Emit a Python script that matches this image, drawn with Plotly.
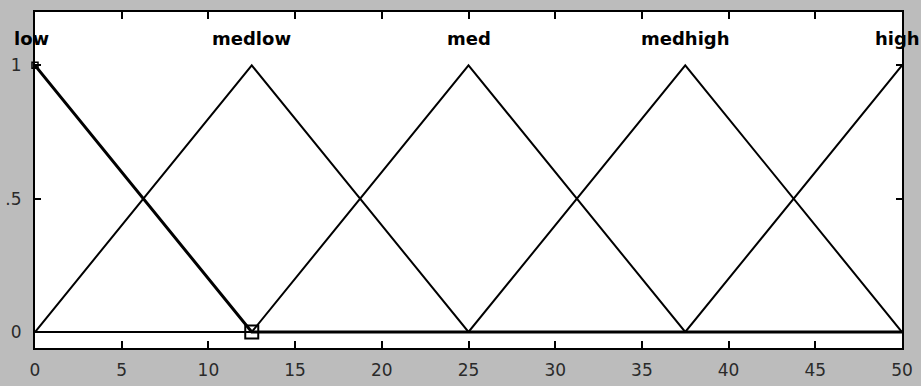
import numpy as np
import plotly.graph_objects as go

# Input universe and triangular membership functions [a, b, c]
x_range = [0, 50]
mf_names = ["low", "medlow", "med", "medhigh", "high"]
mf_params = [
    [-12.5, 0.0, 12.5],
    [0.0, 12.5, 25.0],
    [12.5, 25.0, 37.5],
    [25.0, 37.5, 50.0],
    [37.5, 50.0, 62.5],
]
selected = "low"
x_ticks = [0, 5, 10, 15, 20, 25, 30, 35, 40, 45, 50]
y_ticks = [0, 0.5, 1]
y_tick_text = ["0", ".5", "1"]


def trimf(x, a, b, c):
    x = np.asarray(x, dtype=float)
    left = (x - a) / (b - a) if b != a else np.ones_like(x)
    right = (c - x) / (c - b) if c != b else np.ones_like(x)
    return np.clip(np.minimum(left, right), 0, 1)


breaks = sorted(set([x_range[0], x_range[1]] + [p for prm in mf_params for p in prm
                                                   if x_range[0] <= p <= x_range[1]]))

fig = go.Figure()

for name, prm in zip(mf_names, mf_params):
    if name == selected:
        continue
    fig.add_trace(go.Scatter(
        x=breaks, y=trimf(breaks, *prm), mode="lines",
        line=dict(color="black", width=2), hoverinfo="skip", showlegend=False))

# Highlighted membership function drawn on top, with vertex handles
sel_prm = mf_params[mf_names.index(selected)]
fig.add_trace(go.Scatter(
    x=breaks, y=trimf(breaks, *sel_prm), mode="lines",
    line=dict(color="black", width=3), hoverinfo="skip", showlegend=False))
fig.add_trace(go.Scatter(
    x=[sel_prm[2]], y=[trimf([sel_prm[2]], *sel_prm)[0]], mode="markers",
    marker=dict(symbol="square-open", size=13, color="black", line=dict(width=2)),
    cliponaxis=False, showlegend=False, hoverinfo="skip"))
fig.add_trace(go.Scatter(
    x=[sel_prm[1]], y=[trimf([sel_prm[1]], *sel_prm)[0]], mode="markers",
    marker=dict(symbol="square-open", size=6, color="black", line=dict(width=1.5)),
    cliponaxis=False, showlegend=False, hoverinfo="skip"))

# Membership function names above each peak
for name, prm in zip(mf_names, mf_params):
    peak = min(max(prm[1], x_range[0]), x_range[1])
    shift = -5 if peak == x_range[1] else (-4 if peak == x_range[0] else 0)
    fig.add_annotation(
        x=peak, y=1.1, text=f"<b>{name}</b>", showarrow=False, xshift=shift,
        font=dict(family="DejaVu Sans, sans-serif", size=18, color="black"))

fig.update_layout(
    width=921, height=386,
    margin=dict(l=35, r=19, t=12, b=38),
    paper_bgcolor="#bcbcbc",
    plot_bgcolor="white",
    font=dict(family="DejaVu Sans, sans-serif", size=17, color="#2a2a2a"),
)
fig.update_xaxes(
    range=x_range, tickvals=x_ticks, ticks="inside", ticklen=7, tickwidth=1.5,
    tickcolor="black", showgrid=False, zeroline=False, ticklabelstandoff=6,
    automargin=False,
    showline=True, linecolor="black", linewidth=2, mirror="ticks")
fig.update_yaxes(
    range=[-0.06, 1.2], tickvals=y_ticks, ticktext=y_tick_text,
    ticks="inside", ticklen=6, tickwidth=1.5, tickcolor="black",
    showgrid=False, zeroline=False, ticklabelstandoff=8, automargin=False,
    showline=True, linecolor="black", linewidth=2, mirror="ticks")

fig.write_html("out.html")
